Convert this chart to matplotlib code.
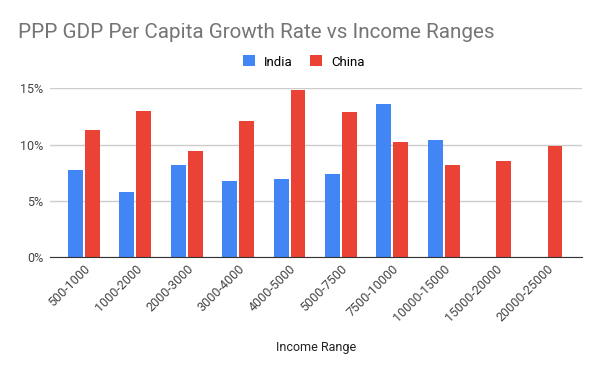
import numpy as np
import matplotlib.pyplot as plt
from matplotlib.ticker import PercentFormatter

plt.rcParams['font.family'] = ['Roboto', 'DejaVu Sans']

ranges = ['500-1000', '1000-2000', '2000-3000', '3000-4000', '4000-5000',
          '5000-7500', '7500-10000', '10000-15000', '15000-20000', '20000-25000']
india = [7.7, 5.8, 8.2, 6.8, 6.9, 7.4, 13.6, 10.4, np.nan, np.nan]
china = [11.3, 13.0, 9.45, 12.1, 14.85, 12.9, 10.2, 8.2, 8.55, 9.9]

fig = plt.figure(figsize=(6, 3.71), dpi=100)
ax = fig.add_axes([50/600, 1-257/371, 532/600, (257-88.3)/371])

x = np.arange(len(ranges))
w = 0.29
off = 0.165
ax.bar(x - off, india, w, color='#4285F4', label='India', zorder=3)
ax.bar(x + off, china, w, color='#EA4335', label='China', zorder=3)

ax.set_xlim(-0.66, 9.69)
ax.set_ylim(0, 15)
ax.set_yticks([0, 5, 10, 15])
ax.yaxis.set_major_formatter(PercentFormatter(decimals=0))
ax.grid(axis='y', color='#cccccc', linewidth=1, zorder=0)
for s in ['top', 'right', 'left']:
    ax.spines[s].set_visible(False)
ax.spines['bottom'].set_color('#333333')
ax.spines['bottom'].set_zorder(4)
ax.tick_params(axis='y', length=0, labelsize=9, labelcolor='#444444', pad=5)
ax.tick_params(axis='x', length=0, labelsize=9, labelcolor='#444444', pad=4)
ax.set_xticks(x)
ax.set_xticklabels(ranges, rotation=45, ha='right', rotation_mode='anchor')

ax.set_xlabel('Income Range', fontsize=9, color='#222222', labelpad=12)

fig.text(18/600, 1-32/371, 'PPP GDP Per Capita Growth Rate vs Income Ranges',
         fontsize=14.9, color='#757575', va='center', ha='left')

fig.legend(loc='center', bbox_to_anchor=(0.506, 1-62/371), ncol=2, frameon=False,
           fontsize=9.5, handlelength=0.9, handleheight=0.9, handletextpad=0.7,
           columnspacing=1.3)

fig.savefig('out.png', dpi=100)
